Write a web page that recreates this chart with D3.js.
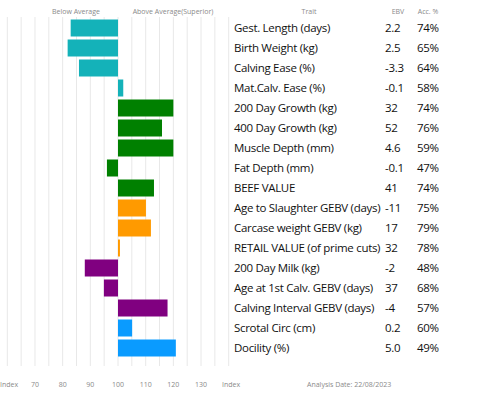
<!DOCTYPE html>
<html>
<head>
<meta charset="utf-8">
<script src="https://cdn.jsdelivr.net/npm/d3@7"></script>
<style>
  body { margin: 0; background: #fff; }
  text { font-family: "Open Sans", "Noto Sans", sans-serif; }
</style>
</head>
<body>
<div id="chart"></div>
<script>
// traits, index values, ebv + accuracy columns
let traits = ["Gest. Length (days)", "Birth Weight (kg)", "Calving Ease (%)", "Mat.Calv. Ease (%)",
    "200 Day Growth (kg)", "400 Day Growth (kg)", "Muscle Depth (mm)", "Fat Depth (mm)", "BEEF VALUE",
    "Age to Slaughter GEBV (days)", "Carcase weight GEBV (kg)", "RETAIL VALUE (of prime cuts)",
    "200 Day Milk (kg)", "Age at 1st Calv. GEBV (days)", "Calving Interval GEBV (days)",
    "Scrotal Circ (cm)", "Docility (%)"];
let indexVals = [82.9, 81.8, 85.9, 101.9, 120, 115.9, 120, 96, 113, 110.1, 111.9, 100.7, 88, 94.9, 117.9, 105.1, 120.9];
let ebv = ["2.2", "2.5", "-3.3", "-0.1", "32", "52", "4.6", "-0.1", "41", "-11", "17", "32", "-2", "37", "-4", "0.2", "5.0"];
let acc = ["74%", "65%", "64%", "58%", "74%", "76%", "59%", "47%", "74%", "75%", "79%", "78%", "48%", "68%", "57%", "60%", "49%"];
let groups = ["calving", "calving", "calving", "calving", "growth", "growth", "growth", "growth", "growth",
    "carcase", "carcase", "carcase", "maternal", "maternal", "maternal", "other", "other"];
let tickVals = [70, 80, 90, 100, 110, 120, 130];

let groupColor = new Map([["calving", "#14b2b9"], ["growth", "#008000"], ["carcase", "#ff9a00"],
    ["maternal", "#800080"], ["other", "#0a9bff"]]);

let width = 482, height = 397;

let svg = d3.select("#chart")
    .append("svg")
    .attr("width", width)
    .attr("height", height);

// x = index scale, 100 is breed average
let x = d3.scaleLinear()
    .domain([60, 140])
    .range([7.3, 228.7]);

let y = d3.scaleBand()
    .domain(traits)
    .range([19.5, 356.5])
    .paddingInner(0.15);

// vertical gridlines every 5 index points
svg.append("g")
    .selectAll("line")
    .data(d3.range(60, 141, 5))
    .enter()
    .append("line")
    .attr("x1", d => x(d))
    .attr("x2", d => x(d))
    .attr("y1", 17)
    .attr("y2", 366)
    .attr("stroke", "#e8e8e8")
    .attr("stroke-width", 1);

// bars
svg.append("g")
    .selectAll("rect")
    .data(traits)
    .enter()
    .append("rect")
    .attr("x", (d, i) => x(Math.min(indexVals[i], 100)))
    .attr("width", (d, i) => Math.abs(x(indexVals[i]) - x(100)))
    .attr("y", d => y(d))
    .attr("height", y.bandwidth())
    .attr("fill", (d, i) => groupColor.get(groups[i]));

// headers
let header = svg.append("g")
    .style("font-size", "7px")
    .attr("fill", "#8a8a8a")
    .attr("text-anchor", "middle");
header.append("text").attr("x", 76).attr("y", 14).text("Below Average");
header.append("text").attr("x", 173).attr("y", 14).text("Above Average(Superior)");
header.append("text").attr("x", 309).attr("y", 14).text("Trait");
header.append("text").attr("x", 398).attr("y", 14).text("EBV");
header.append("text").attr("x", 428).attr("y", 14).text("Acc. %");

// table rows
let rows = svg.append("g")
    .style("font-size", "11.5px")
    .style("letter-spacing", "-0.3px")
    .attr("fill", "#111");

rows.selectAll(".trait")
    .data(traits)
    .enter()
    .append("text")
    .attr("class", "trait")
    .attr("x", 234)
    .attr("y", d => y(d) + y.bandwidth() / 2 + 4)
    .text(d => d);

rows.selectAll(".ebv")
    .data(traits)
    .enter()
    .append("text")
    .attr("class", "ebv")
    .attr("x", 385)
    .attr("y", d => y(d) + y.bandwidth() / 2 + 4)
    .text((d, i) => ebv[i]);

rows.selectAll(".acc")
    .data(traits)
    .enter()
    .append("text")
    .attr("class", "acc")
    .attr("x", 417)
    .attr("y", d => y(d) + y.bandwidth() / 2 + 4)
    .text((d, i) => acc[i]);

// bottom axis labels
let bottom = svg.append("g")
    .style("font-size", "7px")
    .attr("fill", "#8a8a8a");

bottom.selectAll(".tick")
    .data(tickVals)
    .enter()
    .append("text")
    .attr("x", d => x(d))
    .attr("y", 387)
    .attr("text-anchor", "middle")
    .text(d => d);

bottom.append("text").attr("x", 0).attr("y", 387).text("Index");
bottom.append("text").attr("x", 222).attr("y", 387).text("Index");
bottom.append("text").attr("x", 307).attr("y", 387).text("Analysis Date:  22/08/2023");
</script>
</body>
</html>
